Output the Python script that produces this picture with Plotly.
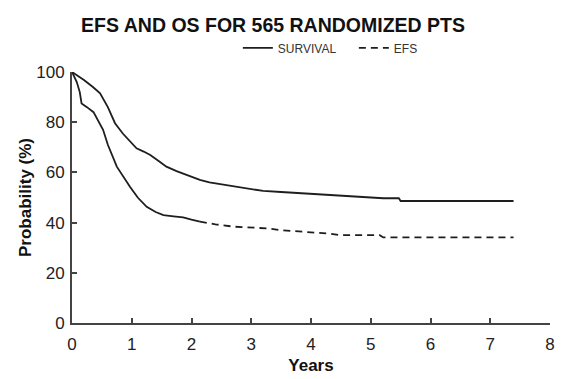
import plotly.graph_objects as go

# Overall survival (Kaplan-Meier)
os_years = [0, 0.1, 0.2, 0.35, 0.47, 0.6, 0.72, 0.85, 1.0, 1.08, 1.2, 1.31, 1.45, 1.58, 1.75,
            1.92, 2.14, 2.3, 2.5, 2.7, 2.95, 3.2, 3.5, 3.82, 4.04, 4.3, 4.65, 4.95, 5.21,
            5.47, 5.5, 7.39]
os_vals = [100, 98.5, 96.8, 94, 91.5, 86, 79.6, 75.5, 71.5, 69.6, 68.3, 66.9, 64.5, 62.3, 60.5,
           59, 57, 56, 55.2, 54.3, 53.5, 52.6, 52.2, 51.7, 51.4, 51.0, 50.3, 50.0, 49.7,
           49.7, 48.6, 48.6]

# Event-free survival: solid early part, dashed later part
efs_years_early = [0, 0.08, 0.13, 0.16, 0.25, 0.36, 0.52, 0.6, 0.75, 0.85, 0.97, 1.1, 1.25,
                   1.4, 1.53, 1.7, 1.86, 2.0, 2.14]
efs_vals_early = [100, 96, 92, 87.5, 86, 84, 77, 71, 62.3, 58.5, 54.3, 50, 46.3,
                  44.2, 43, 42.5, 42.1, 41.2, 40.4]
efs_years_late = [2.14, 2.4, 2.7, 3.0, 3.26, 3.5, 3.82, 4.04, 4.3, 4.49, 5.15, 5.21, 7.39]
efs_vals_late = [40.4, 39.3, 38.4, 38.0, 37.7, 37.0, 36.4, 36.2, 35.6, 35.0, 35.0, 34.1, 34.1]

x_ticks = [0, 1, 2, 3, 4, 5, 6, 7, 8]
y_ticks = [0, 20, 40, 60, 80, 100]

LINE = "#1e1e1e"
AX = "#444444"
FONT = "Liberation Sans, Arial, sans-serif"

fig = go.Figure()
fig.add_trace(go.Scatter(x=os_years, y=os_vals, mode="lines", name="SURVIVAL",
                         line=dict(color=LINE, width=1.8)))
fig.add_trace(go.Scatter(x=efs_years_early, y=efs_vals_early, mode="lines", name="EFS_solid",
                         showlegend=False, line=dict(color=LINE, width=1.8)))
fig.add_trace(go.Scatter(x=efs_years_late, y=efs_vals_late, mode="lines", name="EFS",
                         line=dict(color=LINE, width=1.8, dash="7px,5px")))

fig.update_layout(
    width=563, height=379,
    margin=dict(l=72, r=13, t=72, b=56),
    paper_bgcolor="white", plot_bgcolor="white",
    font=dict(family=FONT, color="#222222"),
    title=dict(text="<b>EFS AND OS FOR 565 RANDOMIZED PTS</b>", x=0.485, xanchor="center",
               y=0.934, yanchor="middle", font=dict(size=19.5, color="#111111")),
    legend=dict(orientation="h", x=0.347, xanchor="left", y=1.096, yanchor="middle",
                font=dict(size=12, color="#333333"), bgcolor="rgba(0,0,0,0)",
                itemwidth=30, tracegroupgap=0, entrywidth=71),
    showlegend=True,
)
fig.update_xaxes(range=[0, 8], tickvals=x_ticks, ticktext=[str(v) for v in x_ticks],
                 showgrid=False, zeroline=False, showline=True, linecolor=AX, linewidth=2,
                 ticks="inside", ticklen=5, tickwidth=1.5, tickcolor=AX, automargin=False,
                 tickfont=dict(size=17, color="#222222"), ticklabelstandoff=5,
                 title=dict(text="<b>Years</b>", font=dict(size=17, color="#111111"), standoff=6))
fig.update_yaxes(range=[0, 100], tickvals=y_ticks, ticktext=[str(v) for v in y_ticks],
                 showgrid=False, zeroline=False, showline=True, linecolor=AX, linewidth=2,
                 ticks="inside", ticklen=5, tickwidth=1.5, tickcolor=AX, automargin=False,
                 tickfont=dict(size=17, color="#222222"), ticklabelstandoff=2,
                 title=dict(text="<b>Probability (%)</b>", font=dict(size=17, color="#111111"),
                            standoff=0))

fig.write_html("out.html")
